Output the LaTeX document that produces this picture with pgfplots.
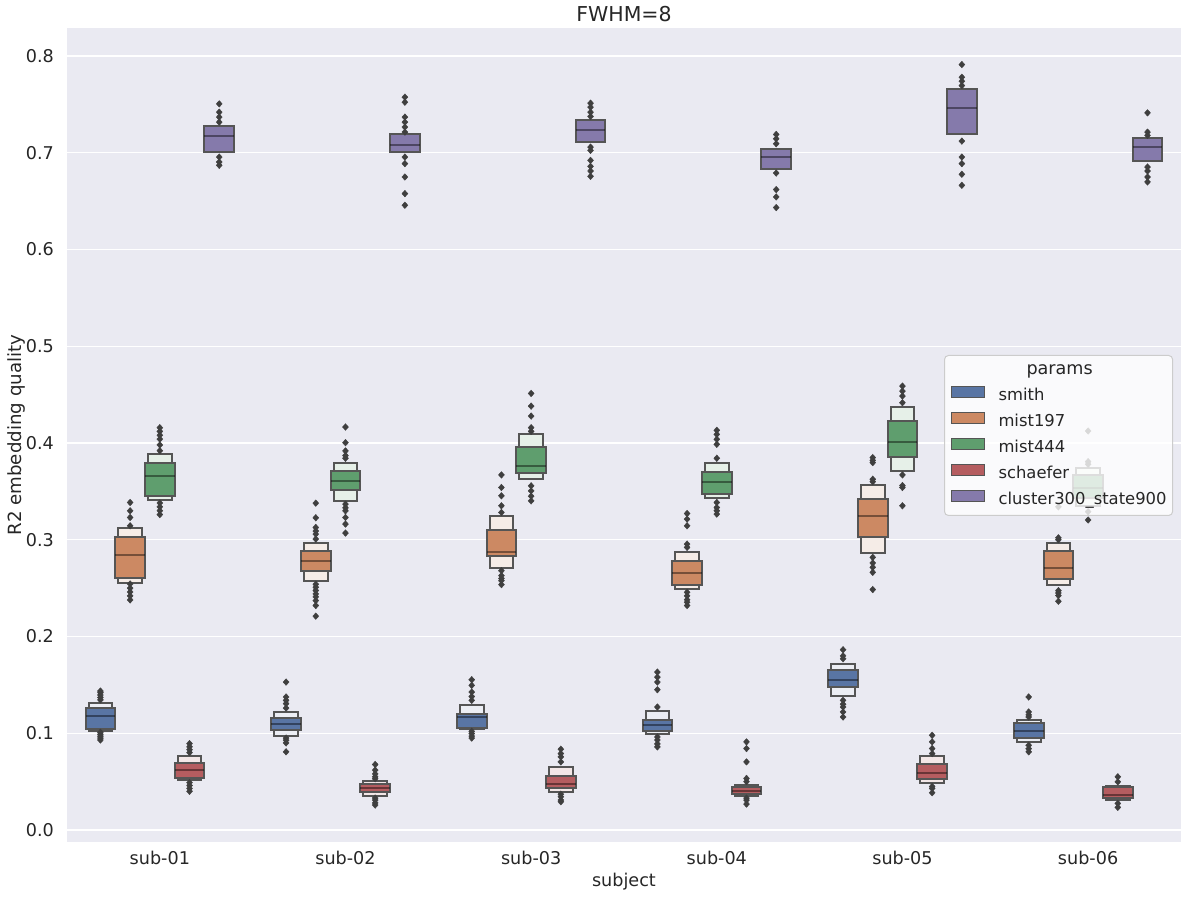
\documentclass[border=0pt]{standalone}
\usepackage{fontspec}
\setmainfont{DejaVu Sans}
\usepackage{pgfplots}
\pgfplotsset{compat=1.18}
\usepgfplotslibrary{statistics}
\definecolor{bg}{HTML}{EAEAF2}
\definecolor{cA}{HTML}{5975A4}\definecolor{cAL}{HTML}{ECEEF4}
\definecolor{cB}{HTML}{CC8963}\definecolor{cBL}{HTML}{F5ECE7}
\definecolor{cC}{HTML}{5F9E6E}\definecolor{cCL}{HTML}{E6F0E8}
\definecolor{cD}{HTML}{B55D60}\definecolor{cDL}{HTML}{F3E7E7}
\definecolor{cE}{HTML}{857AAB}
\definecolor{edgec}{HTML}{555555}
\definecolor{flierc}{HTML}{3F3F3F}
\definecolor{txt}{HTML}{262626}
\definecolor{legedge}{HTML}{CCCCCC}
\pgfplotsset{
 innerbox/.style={forget plot, draw=edgec, line width=2pt,
   boxplot/draw direction=y,
   mark=diamond*, mark size=3.3pt,
   mark options={fill=flierc, draw=flierc, line width=0.4pt, xscale=1.2, solid},
   boxplot/every box/.style={draw=edgec, line width=2pt},
   boxplot/every median/.style={draw=black, draw opacity=0.42, line width=2pt},
   boxplot/draw/lower whisker/.code={}, boxplot/draw/upper whisker/.code={}},
 outerbox/.style={forget plot, draw=edgec, line width=2pt,
   boxplot/draw direction=y,
   boxplot/every box/.style={draw=edgec, line width=2pt},
   boxplot/draw/median/.code={},
   boxplot/draw/lower whisker/.code={}, boxplot/draw/upper whisker/.code={}},
}
% pos, outer-bottom, inner-bottom, median, inner-top, outer-top, colour, outliers
\newcommand{\LV}[8]{%
 \addplot[boxplot/draw direction=y, boxplot prepared={lower whisker=#2, lower quartile=#2, median=#4, upper quartile=#6, upper whisker=#6, draw position=#1, box extend=0.128}, outerbox, fill=#7L] coordinates {};
 \addplot[boxplot/draw direction=y, boxplot prepared={lower whisker=#3, lower quartile=#3, median=#4, upper quartile=#5, upper whisker=#5, draw position=#1, box extend=0.16}, innerbox, fill=#7] table[row sep=\\, y index=0] {y\\ #8};
}
% pos, inner-bottom, median, inner-top, colour, outliers
\newcommand{\LVP}[6]{%
 \addplot[boxplot/draw direction=y, boxplot prepared={lower whisker=#2, lower quartile=#2, median=#3, upper quartile=#4, upper whisker=#4, draw position=#1, box extend=0.16}, innerbox, fill=#5] table[row sep=\\, y index=0] {y\\ #6};
}
\begin{document}
\begin{tikzpicture}
\begin{axis}[name=ax, at={(0,0)}, anchor=south west,
  scale only axis, width=1114pt, height=814pt,
  xmin=-0.5, xmax=5.5, ymin=-0.0124, ymax=0.8289,
  axis background/.style={fill=bg},
  axis line style={draw=none},
  ymajorgrids, major grid style={white, line width=1.3pt},
  major tick length=0pt,
  xtick={0,1,2,3,4,5},
  xticklabels={sub-01,sub-02,sub-03,sub-04,sub-05,sub-06},
  ytick={0,0.1,0.2,0.3,0.4,0.5,0.6,0.7,0.8},
  /pgf/number format/assume math mode=true,
  y tick label style={/pgf/number format/fixed, /pgf/number format/fixed zerofill, /pgf/number format/precision=1},
  tick label style={font=\fontsize{17.6}{21}\selectfont, text=txt, inner sep=0pt},
  yticklabel style={xshift=-13pt},
  xticklabel style={yshift=-9pt},
  title={FWHM=8},
  title style={at={(axis description cs:0.5,1.016)}, yshift=-5pt, anchor=center, font=\fontsize{20.5}{24}\selectfont, text=txt, inner sep=0pt},
  xlabel={subject},
  xlabel style={at={(axis description cs:0.5,-0.049)}, anchor=center, font=\fontsize{17.6}{21}\selectfont, text=txt, inner sep=0pt},
  ylabel={R2 embedding quality},
  ylabel style={at={(axis description cs:-0.0453,0.5)}, anchor=center, font=\fontsize{18.2}{21}\selectfont, text=txt, inner sep=0pt},
  legend cell align=left,
  legend image code/.code={\draw[#1, fill opacity=1, line width=1pt, sharp corners] (0pt,-1.3pt) rectangle (33pt,10pt);},
  legend style={at={(0.993,0.4005)}, anchor=south east, fill=white, fill opacity=0.8, text opacity=1,
    draw=legedge, line width=1pt, rounded corners=4pt, inner xsep=6pt, inner ysep=7pt,
    font=\fontsize{16.4}{19}\selectfont, text=txt, row sep=7.5pt,
    nodes={inner sep=0pt, text height=12pt, text depth=4pt},
    /tikz/every odd column/.append style={column sep=14pt}},
]
\addlegendimage{empty legend}\addlegendentry{\fontsize{17.6}{21}\selectfont\hspace*{28pt}params}
\addlegendimage{fill=cA, draw=edgec}\addlegendentry{smith}
\addlegendimage{fill=cB, draw=edgec}\addlegendentry{mist197}
\addlegendimage{fill=cC, draw=edgec}\addlegendentry{mist444}
\addlegendimage{fill=cD, draw=edgec}\addlegendentry{schaefer}
\addlegendimage{fill=cE, draw=edgec}\addlegendentry{cluster300\_state900}
% sub-01
\LV{-0.32}{0.1027}{0.1045}{0.1179}{0.1261}{0.1316}{cA}{0.1345\\0.1370\\0.1395\\0.1420\\0.1436\\0.1010\\0.0990\\0.0970\\0.0950\\0.0930\\}
\LV{-0.16}{0.2557}{0.2608}{0.2838}{0.3024}{0.3117}{cB}{0.3385\\0.3299\\0.3230\\0.3144\\0.2543\\0.2500\\0.2460\\0.2420\\0.2378\\}
\LV{0}{0.3412}{0.3454}{0.3663}{0.3797}{0.3890}{cC}{0.4158\\0.4120\\0.4080\\0.4040\\0.3980\\0.3920\\0.3380\\0.3340\\0.3300\\0.3260\\}
\LV{0.16}{0.0515}{0.0536}{0.0625}{0.0694}{0.0766}{cD}{0.0893\\0.0860\\0.0830\\0.0800\\0.0490\\0.0460\\0.0430\\0.0400\\}
\LVP{0.32}{0.7007}{0.7168}{0.7271}{cE}{0.7505\\0.7419\\0.7368\\0.7316\\0.6955\\0.6904\\0.6870\\}
% sub-02
\LV{0.68}{0.0973}{0.1034}{0.1093}{0.1158}{0.1220}{cA}{0.1529\\0.1375\\0.1340\\0.1306\\0.1260\\0.0950\\0.0928\\0.0900\\0.0808\\}
\LV{0.84}{0.2570}{0.2680}{0.2777}{0.2887}{0.2969}{cB}{0.3378\\0.3227\\0.3127\\0.3090\\0.3058\\0.3007\\0.2540\\0.2509\\0.2475\\0.2440\\0.2410\\0.2371\\0.2320\\0.2210\\}
\LV{1}{0.3405}{0.3519}{0.3612}{0.3715}{0.3797}{cC}{0.4165\\0.4003\\0.3918\\0.3870\\0.3842\\0.3368\\0.3330\\0.3299\\0.3230\\0.3162\\0.3069\\}
\LV{1.16}{0.0351}{0.0392}{0.0436}{0.0478}{0.0509}{cD}{0.0677\\0.0619\\0.0580\\0.0550\\0.0530\\0.0330\\0.0309\\0.0280\\0.0258\\}
\LVP{1.32}{0.7007}{0.7079}{0.7192}{cE}{0.7574\\0.7522\\0.7368\\0.7316\\0.7265\\0.7213\\0.6955\\0.6887\\0.6749\\0.6577\\0.6457\\}
% sub-03
\LV{1.68}{0.1041}{0.1058}{0.1168}{0.1199}{0.1292}{cA}{0.1553\\0.1495\\0.1426\\0.1380\\0.1340\\0.1020\\0.0997\\0.0970\\0.0950\\}
\LV{1.84}{0.2711}{0.2828}{0.2876}{0.3103}{0.3241}{cB}{0.3670\\0.3540\\0.3454\\0.3351\\0.3282\\0.2680\\0.2629\\0.2600\\0.2577\\0.2536\\}
\LV{2}{0.3632}{0.3694}{0.3763}{0.3959}{0.4096}{cC}{0.4512\\0.4381\\0.4278\\0.4158\\0.4120\\0.3557\\0.3505\\0.3450\\0.3402\\}
\LV{2.16}{0.0392}{0.0433}{0.0478}{0.0560}{0.0653}{cD}{0.0835\\0.0790\\0.0756\\0.0704\\0.0370\\0.0344\\0.0310\\0.0292\\}
\LVP{2.32}{0.7107}{0.7234}{0.7337}{cE}{0.7512\\0.7471\\0.7419\\0.7375\\0.7058\\0.7024\\0.6921\\0.6859\\0.6811\\0.6756\\}
% sub-04
\LV{2.68}{0.0993}{0.1021}{0.1082}{0.1137}{0.1230}{cA}{0.1632\\0.1580\\0.1529\\0.1450\\0.1271\\0.0962\\0.0930\\0.0890\\0.0859\\}
\LV{2.84}{0.2495}{0.2536}{0.2653}{0.2777}{0.2876}{cB}{0.3271\\0.3213\\0.3144\\0.2955\\0.2921\\0.2457\\0.2420\\0.2380\\0.2354\\0.2320\\}
\LV{3}{0.3433}{0.3474}{0.3601}{0.3704}{0.3797}{cC}{0.4131\\0.4089\\0.4038\\0.3986\\0.3842\\0.3385\\0.3333\\0.3300\\0.3265\\}
\LV{3.16}{0.0349}{0.0371}{0.0404}{0.0440}{0.0467}{cD}{0.0911\\0.0842\\0.0704\\0.0533\\0.0500\\0.0330\\0.0309\\0.0268\\}
\LVP{3.32}{0.6828}{0.6952}{0.7034}{cE}{0.7189\\0.7144\\0.7093\\0.6790\\0.6619\\0.6543\\0.6433\\}
% sub-05
\LV{3.68}{0.1381}{0.1478}{0.1550}{0.1656}{0.1718}{cA}{0.1863\\0.1800\\0.1770\\0.1340\\0.1300\\0.1271\\0.1220\\0.1168\\}
\LV{3.84}{0.2866}{0.3024}{0.3241}{0.3426}{0.3570}{cB}{0.3849\\0.3820\\0.3797\\0.3625\\0.3600\\0.2818\\0.2760\\0.2715\\0.2663\\0.2485\\}
\LV{4}{0.3711}{0.3856}{0.4014}{0.4227}{0.4375}{cC}{0.4588\\0.4536\\0.4485\\0.4416\\0.3670\\0.3560\\0.3540\\0.3351\\}
\LV{4.16}{0.0481}{0.0522}{0.0588}{0.0687}{0.0763}{cD}{0.0979\\0.0911\\0.0842\\0.0790\\0.0450\\0.0430\\0.0385\\}
\LVP{4.32}{0.7189}{0.7467}{0.7656}{cE}{0.7911\\0.7780\\0.7739\\0.7694\\0.7120\\0.6955\\0.6887\\0.6777\\0.6663\\}
% sub-06
\LV{4.68}{0.0911}{0.0955}{0.1024}{0.1107}{0.1134}{cA}{0.1375\\0.1220\\0.1190\\0.1168\\0.0876\\0.0840\\0.0808\\}
\LV{4.84}{0.2533}{0.2598}{0.2704}{0.2880}{0.2962}{cB}{0.3340\\0.3020\\0.3000\\0.2474\\0.2450\\0.2423\\0.2364\\}
\LV{5}{0.3350}{0.3428}{0.3531}{0.3669}{0.3745}{cC}{0.4124\\0.3807\\0.3780\\0.3290\\0.3204\\}
\LV{5.16}{0.0310}{0.0327}{0.0361}{0.0440}{0.0454}{cD}{0.0550\\0.0498\\0.0275\\0.0234\\}
\LVP{5.32}{0.6911}{0.7058}{0.7151}{cE}{0.7412\\0.7213\\0.7179\\0.6852\\0.6811\\0.6749\\0.6698\\}
\end{axis}
\pgfresetboundingbox
\useasboundingbox (-67pt,-57pt) rectangle (1121pt,842pt);
\end{tikzpicture}
\end{document}
